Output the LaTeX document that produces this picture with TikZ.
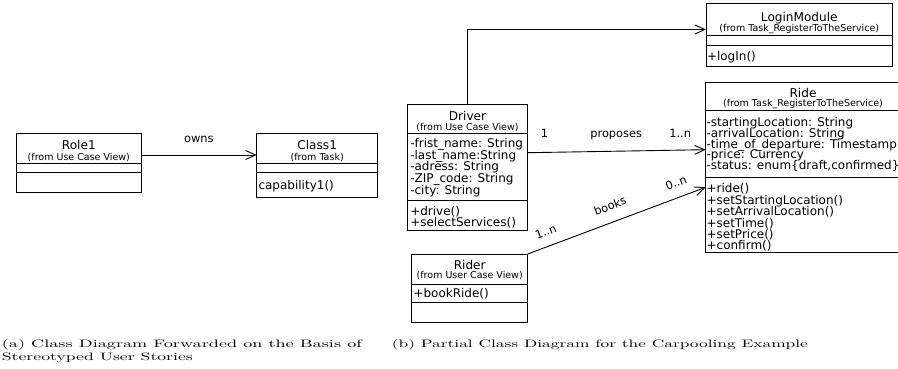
\documentclass[tikz,border=0pt]{standalone}
\usepackage{fontspec}
\usetikzlibrary{arrows.meta}
\newfontfamily\umlfont{DejaVu Sans}

% horizontal divider across a class box at height #2
\newcommand\splitbox[2]{\draw[part] (#1.west |- 0,#2) -- (#1.east |- 0,#2);}

\tikzset{
  classbox/.style={draw, line width=0.9pt, inner sep=0pt, outer sep=0pt, anchor=north west},
  part/.style={line width=0.9pt},
  classname/.style={font=\umlfont\fontsize{12.1}{12}\selectfont, inner sep=0pt, anchor=base},
  origin/.style={font=\umlfont\fontsize{9.5}{10}\selectfont, inner sep=0pt, anchor=base},
  member/.style={font=\umlfont\fontsize{12}{11.4}\selectfont, inner sep=0pt, anchor=base west},
  link/.style={line width=0.9pt, -{Straight Barb[length=10pt,width=9pt]}},
  linklabel/.style={font=\umlfont\fontsize{11.4}{12}\selectfont, inner sep=0pt},
  captiontext/.style={font=\fontsize{10.8}{12}\selectfont\addfontfeature{FakeBold=0.4}, inner sep=0pt, anchor=base west},
}

\begin{document}
\begin{tikzpicture}[x=1pt,y=-1pt]
\useasboundingbox (0,0) rectangle (898,369);
\clip (0,0) rectangle (898,369);

% ---------- (a) ----------
\node[classbox, minimum width=125.7pt, minimum height=59.4pt] (role) at (16,133.3) {};
\splitbox{role}{163.3}
\splitbox{role}{172.3}
\node[classname] (roleT) at (78.8,149.5) {Role1};
\node[origin] (roleO) at (78.8,160.2) {(from Use Case View)};

\node[classbox, minimum width=121pt, minimum height=64pt] (class1) at (256.7,133.3) {};
\splitbox{class1}{163.3}
\splitbox{class1}{172.3}
\node[classname] (class1T) at (317.2,149.5) {Class1};
\node[origin] (class1O) at (317.2,160.2) {(from Task)};
\node[member] (class1M) at (258.3,189.5) {capability1()};

\coordinate (ownsY) at (0,155);
\draw[link] (role.east |- ownsY) -- (class1.west |- ownsY);
\node[linklabel, anchor=base] (ownsL) at (198.8,142.5) {owns};

% ---------- (b) ----------
% Driver
\node[classbox, minimum width=120.4pt, minimum height=125.7pt] (driver) at (407.3,104.3) {};
\splitbox{driver}{133.3}
\splitbox{driver}{200.3}
\node[classname] (driverT) at (467.5,120.2) {Driver};
\node[origin] (driverO) at (467.5,130.5) {(from Use Case View)};
\foreach \t [count=\i from 0] in {-frist\_name: String,-last\_name:String,-adress: String,-ZIP\_code: String,-city: String}
  \node[member] (driverA\i) at (410.1,147.8+11.6*\i) {\t};
\foreach \t [count=\i from 0] in {+drive(),+selectServices()}
  \node[member] (driverM\i) at (410.1,215.2+11*\i) {\t};

% Rider
\node[classbox, minimum width=116pt, minimum height=68.3pt] (rider) at (411.7,254) {};
\splitbox{rider}{284.3}
\splitbox{rider}{302.3}
\node[classname] (riderT) at (469.7,269.5) {Rider};
\node[origin] (riderO) at (469.7,278.5) {(from User Case View)};
\node[member] (riderM) at (413.3,297.8) {+bookRide()};

% LoginModule
\node[classbox, minimum width=186.7pt, minimum height=63.4pt] (login) at (706,3.3) {};
\splitbox{login}{35.7}
\splitbox{login}{45.7}
\node[classname] (loginT) at (799.3,21.2) {LoginModule};
\node[origin] (loginO) at (799.3,31.8) {(from Task\_RegisterToTheService)};
\node[member] (loginM) at (706.8,60.5) {+logIn()};

% Ride
\node[classbox, minimum width=194.3pt, minimum height=169.3pt] (ride) at (705.7,82.7) {};
\splitbox{ride}{110}
\splitbox{ride}{177.3}
\node[classname] (rideT) at (803,97.2) {Ride};
\node[origin] (rideO) at (803,106.8) {(from Task\_RegisterToTheService)};
\foreach \t [count=\i from 0] in {-startingLocation: String,-arrivalLocation: String,-time\_of\_departure: Timestamp,-price: Currency,{-status: enum\{draft,confirmed\}}}
  \node[member] (rideA\i) at (706.4,126.2+10.9*\i) {\t};
\foreach \t [count=\i from 0] in {+ride(),+setStartingLocation(),+setArrivalLocation(),+setTime(),+setPrice(),+confirm()}
  \node[member] (rideM\i) at (706.4,192.8+11.4*\i) {\t};

% associations
\coordinate (loginY) at (0,29.5);
\draw[link] (driver.north) |- (login.west |- loginY);

\coordinate (propA) at (0,152.7);
\coordinate (propB) at (0,149.7);
\draw[link] (driver.east |- propA) -- (ride.west |- propB);
\node[linklabel, anchor=base] (propL) at (616.2,137.3) {proposes};
\node[linklabel, anchor=base] (propS) at (544.5,137.3) {1};
\node[linklabel, anchor=base] (propT) at (680.2,137.3) {1..n};

\coordinate (bookB) at (0,187.3);
\draw[link] (rider.north east) -- (ride.west |- bookB);
\node[linklabel, rotate=20.8] (bookL) at (610,205.7) {books};
\node[linklabel, rotate=20.8] (bookT) at (676,182.7) {0..n};
\node[linklabel, rotate=20.8] (bookS) at (545.7,231.7) {1..n};

% ---------- captions ----------
\node[captiontext] (capA1) at (1.7,347.5) {\resizebox{360pt}{\height}{(a) Class Diagram Forwarded on the Basis of}};
\node[captiontext] (capA2) at (1.7,360) {\resizebox{191pt}{\height}{Stereotyped User Stories}};
\node[captiontext] (capB) at (391.7,347.5) {\resizebox{416pt}{\height}{(b) Partial Class Diagram for the Carpooling Example}};
\end{tikzpicture}
\end{document}
